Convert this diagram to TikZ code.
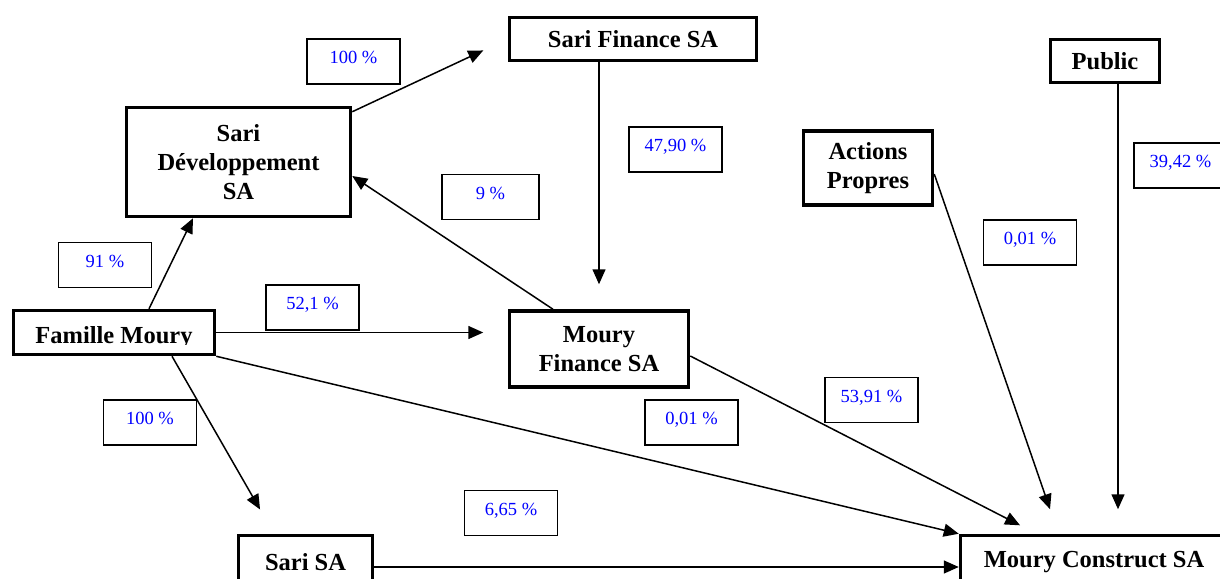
\documentclass[tikz,border=0pt]{standalone}
\usepackage{fontspec}
\setmainfont{Liberation Serif}
\usetikzlibrary{arrows.meta,calc}
\tikzset{
  ent/.style={draw=black, line width=3.5pt, fill=white, inner sep=0pt, align=center,
    font=\fontsize{24.5}{29}\selectfont\bfseries},
  enttext/.style={inner sep=0pt, font=\fontsize{24.5}{29}\selectfont\bfseries},
  pct/.style={draw=black, line width=1.5pt, fill=white, inner sep=0pt,
    minimum width=93pt, minimum height=45pt, text=blue,
    text height=18pt, text depth=13.6pt,
    font=\fontsize{18.5}{22}\selectfont},
  conn/.style={line width=1.5pt, -{Triangle[length=15pt,width=13pt]}}
}
\begin{document}
\begin{tikzpicture}[x=1pt,y=-1pt]
\path[use as bounding box, clip] (0,0) rectangle (1220,578);
% entity boxes
\node[ent, minimum width=224pt, minimum height=109pt] (saridev) at (238.5,162) {Sari\\Développement\\SA};
\node[ent, minimum width=247pt, minimum height=43pt] (sarifin) at (633,39) {Sari Finance SA};
\node[ent, minimum width=109pt, minimum height=43pt] (public) at (1105,61) {Public};
\node[ent, minimum width=129pt, minimum height=74pt] (actions) at (868,168) {Actions\\Propres};
\node[ent, minimum width=201pt, minimum height=44pt] (fam) at (114,332.5) {};
\begin{scope}
\clip (12,309) rectangle (216,344.2);
\node[enttext, anchor=base] (famtext) at (114,343.3) {Famille Moury};
\end{scope}
\node[ent, minimum width=179pt, minimum height=76pt] (moufin) at (599,349) {Moury\\Finance SA};
\node[ent, minimum width=134pt, minimum height=53pt] (sarisa) at (305.5,562) {Sari SA};
\node[ent, minimum width=267pt, minimum height=53pt] (moucon) at (1094,562) {Moury Construct SA};
% percentage boxes
\node[pct] (p100a) at (353.5,61.5) {100 \%};
\node[pct] (p91) at (105,265) {91 \%};
\node[pct] (p521) at (312.5,307.5) {52,1 \%};
\node[pct, minimum width=97pt] (p9) at (490.5,197) {9 \%};
\node[pct] (p4790) at (675.5,149.5) {47,90 \%};
\node[pct] (p001r) at (1030,242.5) {0,01 \%};
\node[pct] (p3942) at (1180.5,165.5) {39,42 \%};
\node[pct] (p100b) at (150,422.5) {100 \%};
\node[pct] (p001m) at (691.5,422.5) {0,01 \%};
\node[pct] (p665) at (511,513) {6,65 \%};
\node[pct] (p5391) at (871.5,400) {53,91 \%};
% connectors
\draw[conn] ([xshift=35pt]fam.north) -- ([xshift=-45.5pt]saridev.south);
\draw[conn, shorten >=27pt] ([yshift=-6pt]saridev.north east) -- (sarifin.west);
\draw[conn, shorten >=25pt] (moufin.north |- sarifin.south) -- (moufin.north);
\draw[conn] ([xshift=-46pt]moufin.north) -- ([yshift=-14pt]saridev.east);
\draw[conn, shorten >=24.5pt] (fam.east) -- (fam.east -| moufin.west);
\draw[conn, shorten >=28pt] ([xshift=58pt]fam.south) -- ([xshift=-31.5pt]sarisa.north);
\draw[conn] (fam.south east) -- (moucon.north west);
\draw[conn] ([yshift=-5pt]sarisa.east) -- ([yshift=-5pt]sarisa.east -| moucon.west);
\draw[conn, shorten >=18.5pt] ([yshift=-7pt]moufin.east) -- ([xshift=-57.5pt]moucon.north);
\draw[conn, shorten >=26pt] ([yshift=-6pt]actions.east) -- ([xshift=-35.5pt]moucon.north);
\draw[conn, shorten >=24.5pt] ([xshift=13pt]public.south) -- ([xshift=13pt]public.south |- moucon.north);
\end{tikzpicture}
\end{document}
